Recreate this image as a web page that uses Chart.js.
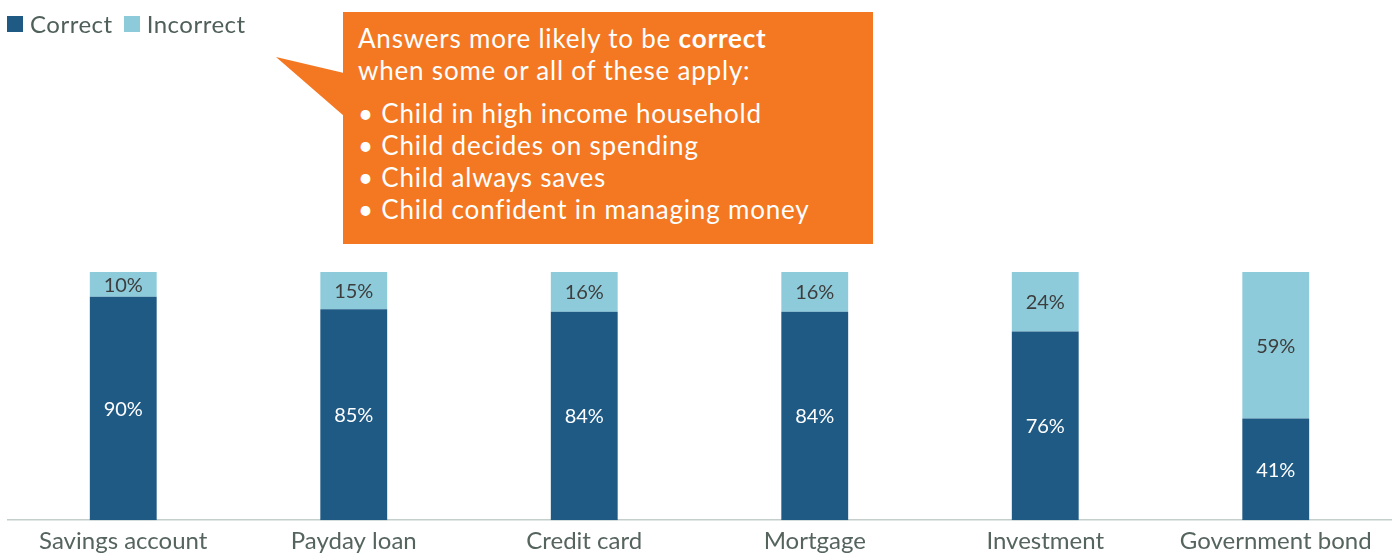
<!DOCTYPE html>
<html>
<head>
<meta charset="utf-8">
<script src="https://cdn.jsdelivr.net/npm/chart.js@4.4.1/dist/chart.umd.min.js"></script>
<style>
  html, body { margin: 0; padding: 0; background: #fff; }
  body { width: 1399px; height: 553px; position: relative; overflow: hidden; font-family: Lato, "Open Sans", sans-serif; }
  #wrap { position: absolute; left: 0; top: 0; width: 1399px; height: 553px; }
  .legend { position: absolute; left: 7px; top: 9px; font-size: 24px; letter-spacing: 0.5px; color: #4f5f59; display: flex; align-items: center; }
  .legend span.box { display: inline-block; width: 16px; height: 16px; margin-right: 7px; }
  .legend span.item { display: flex; align-items: center; margin-right: 11px; }
  .callout { position: absolute; left: 343px; top: 12px; width: 530px; height: 232px; background: #f47721; color: #fff; font-size: 26px; letter-spacing: 0.8px; line-height: 32px; box-sizing: border-box; padding: 10px 0 0 15px; }
  .callout b { font-weight: 700; }
  .callout .gap { height: 11px; }
</style>
</head>
<body>
<div id="wrap"><canvas id="quizChart"></canvas></div>
<div class="legend" id="legend"></div>
<svg style="position:absolute;left:0;top:0" width="400" height="200">
  <polygon points="276,57 344,73 344,116" fill="#f47721"/>
</svg>
<div class="callout">
  <div>Answers more likely to be <b>correct</b></div>
  <div>when some or all of these apply:</div>
  <div class="gap"></div>
  <div>• Child in high income household</div>
  <div>• Child decides on spending</div>
  <div>• Child always saves</div>
  <div>• Child confident in managing money</div>
</div>
<script>
const categories = ['Savings account', 'Payday loan', 'Credit card', 'Mortgage', 'Investment', 'Government bond'];
const correctValues = [90, 85, 84, 84, 76, 41];
const incorrectValues = [10, 15, 16, 16, 24, 59];

const colors = { correct: '#1f5a85', incorrect: '#8dcbdb' };

// labels in the middle of each bar segment
const segmentLabels = {
  id: 'segmentLabels',
  afterDatasetsDraw(chart) {
    const ctx = chart.ctx;
    ctx.save();
    ctx.font = '20px Lato, "Open Sans", sans-serif';
    ctx.textAlign = 'center';
    ctx.textBaseline = 'middle';
    chart.data.datasets.forEach((ds, di) => {
      const meta = chart.getDatasetMeta(di);
      ctx.fillStyle = di === 0 ? '#ffffff' : '#3d3d3d';
      meta.data.forEach((bar, i) => {
        const p = bar.getProps(['x', 'y', 'base'], true);
        ctx.fillText(ds.data[i] + '%', p.x, (p.y + p.base) / 2 + 1);
      });
    });
    ctx.restore();
  }
};

const chart = new Chart(document.getElementById('quizChart'), {
  type: 'bar',
  data: {
    labels: categories,
    datasets: [
      { label: 'Correct', data: correctValues, backgroundColor: colors.correct },
      { label: 'Incorrect', data: incorrectValues, backgroundColor: colors.incorrect }
    ]
  },
  options: {
    responsive: true,
    maintainAspectRatio: false,
    animation: false,
    barPercentage: 0.29,
    categoryPercentage: 1,
    layout: { padding: { top: 272, left: 8, right: 8, bottom: -10 } },
    plugins: {
      legend: { display: false },
      tooltip: { enabled: false }
    },
    scales: {
      x: {
        stacked: true,
        grid: { display: false, drawTicks: false },
        border: { color: '#c4cfcb', width: 1.5 },
        ticks: { padding: 7, color: '#56645e', font: { size: 24, family: 'Lato, "Open Sans", sans-serif' } }
      },
      y: { stacked: true, display: false, min: 0, max: 100 }
    }
  },
  plugins: [segmentLabels]
});

// legend built from the datasets
document.getElementById('legend').innerHTML = chart.data.datasets.map(ds => `
  <span class="item"><span class="box" style="background:${ds.backgroundColor}"></span>${ds.label}</span>
`).join('');
</script>
</body>
</html>
